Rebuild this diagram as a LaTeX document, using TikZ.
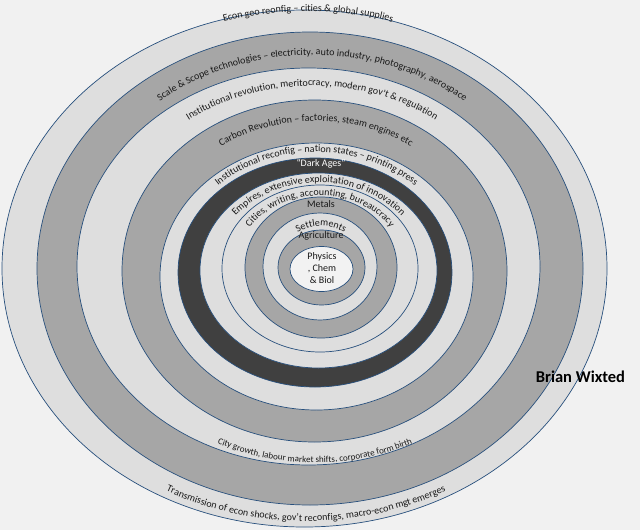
\documentclass[tikz,border=0pt]{standalone}
\usepackage{fontspec}
\setmainfont{Carlito}
\usetikzlibrary{decorations.text}
\definecolor{bgc}{RGB}{241,241,241}
\definecolor{lightband}{RGB}{222,222,222}
\definecolor{grayband}{RGB}{166,166,166}
\definecolor{darkband}{RGB}{64,64,64}
\definecolor{corefill}{RGB}{242,242,242}
\definecolor{rimline}{RGB}{40,80,125}
\definecolor{txtc}{RGB}{25,25,25}
\newcommand{\rtf}{\fontsize{10}{12}\selectfont}
\newcommand{\rtfs}{\fontsize{9}{11}\selectfont}
\tikzset{
  ring/.style={draw=rimline, line width=0.7pt},
  arctext/.style={decorate, decoration={text along path, text align=center, text color=txtc, text={#1}}},
  lbl/.style={text=txtc, font=\fontsize{10}{12}\selectfont, inner sep=0pt}
}
\begin{document}
\begin{tikzpicture}[x=1pt,y=-1pt]
\fill[bgc] (0,0) rectangle (640,530);
\useasboundingbox (0,0) rectangle (640,530);
% rings (outer to inner)
\draw[ring, fill=lightband] (304.5,268.5) ellipse [x radius=302.5, y radius=258.5];
\draw[ring, fill=grayband]  (310,268.5)   ellipse [x radius=273,   y radius=236.5];
\draw[ring, fill=lightband] (308.5,266.5) ellipse [x radius=231.5, y radius=198.5];
\draw[ring, fill=grayband]  (314.5,271)   ellipse [x radius=192.5, y radius=171];
\draw[ring, fill=lightband] (316.5,276.5) ellipse [x radius=156.5, y radius=133.5];
\draw[ring, fill=darkband]  (315,272.5)   ellipse [x radius=137,   y radius=114.5];
\draw[ring, fill=lightband] (318.5,270.5) ellipse [x radius=118.5, y radius=97.5];
\draw[ring, fill=lightband] (320,268.5)   ellipse [x radius=98,    y radius=83.5];
\draw[ring, fill=grayband]  (321,267.5)   ellipse [x radius=76,    y radius=70.5];
\draw[ring, fill=lightband] (320,266.5)   ellipse [x radius=57,    y radius=53.5];
\draw[ring, fill=grayband]  (321.5,267.5) ellipse [x radius=43.5,  y radius=37.5];
\draw[ring, fill=corefill]  (321.5,269)   ellipse [x radius=31.5,  y radius=22.5];
% curved texts, top
\path[arctext={|\rtf|Econ geo reonfig – cities {\&} global supplies}]
  (308,268.5) ++(200:298 and 257) arc[start angle=200, end angle=340, x radius=298, y radius=257];
\path[arctext={|\rtf|Scale {\&} Scope technologies – electricity, auto industry, photography, aerospace}]
  (312,268.5) ++(190:245 and 213.5) arc[start angle=190, end angle=350, x radius=245, y radius=213.5];
\path[arctext={|\rtf|Institutional revolution, meritocracy, modern gov’t {\&} regulation}]
  (312,266.5) ++(190:211 and 180.5) arc[start angle=190, end angle=350, x radius=211, y radius=180.5];
\path[arctext={|\rtf|Carbon Revolution – factories, steam engines etc}]
  (316,271) ++(190:170 and 150) arc[start angle=190, end angle=350, x radius=170, y radius=150];
\path[arctext={|\rtf|Institutional reconfig – nation states – printing press}]
  (316.5,276.5) ++(190:144 and 124.5) arc[start angle=190, end angle=350, x radius=144, y radius=124.5];
\path[arctext={|\rtf|Empires, extensive exploitation of innovation}]
  (318.5,270.5) ++(185:106 and 88) arc[start angle=185, end angle=355, x radius=106, y radius=88];
\path[arctext={|\rtf|Cities, writing, accounting, bureaucracy}]
  (320,268.5) ++(185:85 and 73) arc[start angle=185, end angle=355, x radius=85, y radius=73];
\path[arctext={|\rtf|Settlements}]
  (321,267) ++(220:44 and 41) arc[start angle=220, end angle=320, x radius=44, y radius=41];
% curved texts, bottom
\path[arctext={|\rtfs|City growth, labour market shifts, corporate form birth}]
  (315,266.5) ++(160:226 and 196) arc[start angle=160, end angle=20, x radius=226, y radius=196];
\path[arctext={|\rtf|Transmission of econ shocks, gov’t reconfigs, macro-econ mgt emerges}]
  (306,268.5) ++(160:295 and 252.5) arc[start angle=160, end angle=20, x radius=295, y radius=252.5];
% straight labels
\node[lbl, text=white] (dark) at (321,164) {“Dark Ages”};
\node[lbl] (metals) at (321,204) {Metals};
\node[lbl] (agri) at (321,236) {Agriculture};
\node[lbl, align=center] (core) at (322,268) {Physics\\, Chem\\\& Biol};
\node[text=black, font=\fontsize{16.5}{19}\selectfont\bfseries, inner sep=0pt] (author) at (580.5,377) {Brian Wixted};
\end{tikzpicture}
\end{document}
